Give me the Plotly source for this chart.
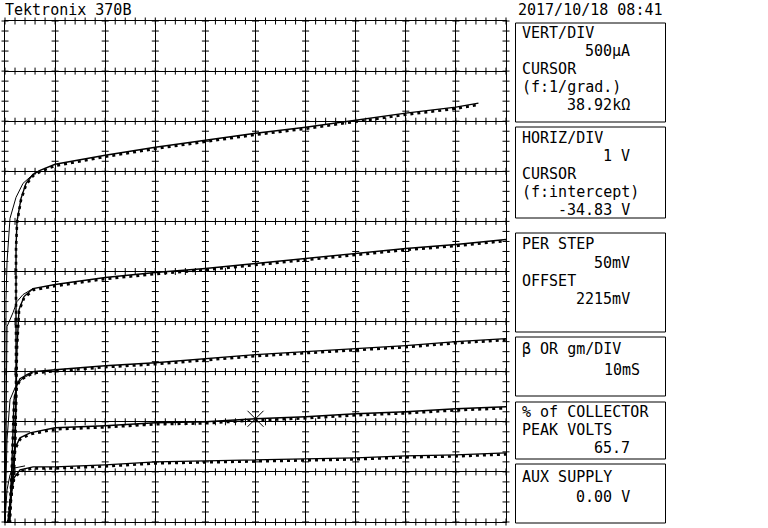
import numpy as np
import plotly.graph_objects as go

# ---------------- data (V in volts, I in mA) ----------------
# step 0 (lowest curve)
s0_v = [0.06, 0.12, 0.18, 0.30, 0.56, 1, 2, 3, 4, 5, 6, 7, 8, 9, 10]
s0_i = [0.00, 0.27, 0.44, 0.52, 0.55, 0.55, 0.57, 0.60, 0.61, 0.62, 0.63, 0.64, 0.66, 0.67, 0.69]
s0r_v = [0.00, 0.04, 0.10, 0.20, 0.40]
s0r_i = [0.00, 0.32, 0.47, 0.54, 0.56]
# step 1
s1_v = [0.08, 0.14, 0.20, 0.30, 0.50, 1, 2, 3, 4, 5, 6, 7, 8, 9, 10]
s1_i = [0.00, 0.52, 0.74, 0.84, 0.89, 0.94, 0.96, 0.99, 1.00, 1.03, 1.05, 1.08, 1.10, 1.13, 1.15]
s1r_v = [0.00, 0.00, 0.02, 0.50]
s1r_i = [0.00, 0.42, 0.90, 0.90]
# step 2
s2_v = [0.10, 0.16, 0.18, 0.24, 0.30, 0.44, 0.56, 1, 2, 3, 4, 5, 6, 7, 8, 9, 10]
s2_i = [0.00, 0.82, 1.22, 1.37, 1.43, 1.47, 1.50, 1.52, 1.56, 1.59, 1.63, 1.67, 1.70, 1.73, 1.76, 1.80, 1.83]
s2r_v = [0.00, 0.04, 0.10, 0.20, 0.34, 0.56]
s2r_i = [0.00, 0.82, 1.22, 1.34, 1.43, 1.49]
# step 3
s3_v = [0.08, 0.20, 0.24, 0.28, 0.38, 0.56, 1, 2, 3, 4, 5, 6, 7, 8, 9, 10]
s3_i = [0.00, 0.72, 1.75, 2.12, 2.25, 2.33, 2.37, 2.44, 2.49, 2.53, 2.58, 2.63, 2.68, 2.73, 2.77, 2.82]
s3r_v = [0.00, 0.02, 0.04, 0.16, 0.24, 0.36, 0.56]
s3r_i = [0.00, 1.02, 1.95, 2.09, 2.20, 2.27, 2.33]
# step 4 (top curve)
s4_v = [0.06, 0.18, 0.22, 0.22, 0.22, 0.24, 0.32, 0.42, 0.56, 0.70, 1, 2, 3, 4, 5, 6, 7, 8, 9, 9.45]
s4_i = [0.00, 0.52, 1.22, 2.22, 2.74, 3.00, 3.23, 3.38, 3.47, 3.51, 3.57, 3.66, 3.74, 3.81, 3.88, 3.94, 4.01, 4.08, 4.14, 4.18]
s4r_v = [0.00, 0.02, 0.02, 0.04, 0.10, 0.22, 0.36, 0.54, 0.70]
s4r_i = [0.00, 1.02, 2.22, 2.59, 3.03, 3.24, 3.38, 3.46, 3.51]

cursor_v = [5.0]
cursor_i = [1.03]

header_left = "Tektronix 370B"
header_right = "2017/10/18 08:41"

# ---------------- figure ----------------
W, H = 768, 528
L, R, T, B = 5, 506, 21, 522          # plot area pixels
XMAX, YMAX = 10, 5.0                  # 10 div x 1 V, 10 div x 0.5 mA
FONT = "DejaVu Sans Mono"
FS = 15

fig = go.Figure()

# minor graticule ticks on every grid line (every 1/5 division)
minor_x = np.arange(0, XMAX + 1e-9, 0.2)
minor_y = np.arange(0, YMAX + 1e-9, 0.1)
major_x = np.arange(0, XMAX + 1e-9, 1)
major_y = np.arange(0, YMAX + 1e-9, 0.5)
hx, hy = np.meshgrid(minor_x, major_y)
vx, vy = np.meshgrid(major_x, minor_y)
fig.add_trace(go.Scatter(x=hx.ravel(), y=hy.ravel(), mode="markers",
                         marker=dict(symbol="line-ns", size=5, line=dict(width=1, color="black")),
                         hoverinfo="skip", showlegend=False, cliponaxis=False))
fig.add_trace(go.Scatter(x=vx.ravel(), y=vy.ravel(), mode="markers",
                         marker=dict(symbol="line-ew", size=5, line=dict(width=1, color="black")),
                         hoverinfo="skip", showlegend=False, cliponaxis=False))

steps = [(s0_v, s0_i, s0r_v, s0r_i), (s1_v, s1_i, s1r_v, s1r_i), (s2_v, s2_i, s2r_v, s2r_i),
         (s3_v, s3_i, s3r_v, s3r_i), (s4_v, s4_i, s4r_v, s4r_i)]
for v, i, rv, ri in steps:
    fig.add_trace(go.Scatter(x=rv, y=ri, mode="lines", line=dict(color="black", width=1),
                             showlegend=False, hoverinfo="skip"))
    fig.add_trace(go.Scatter(x=v, y=i, mode="lines", line=dict(color="black", width=1.4),
                             showlegend=False, hoverinfo="skip"))
    # sampled-point trace, drawn slightly below the swept line
    fig.add_trace(go.Scatter(x=v, y=i, mode="lines", yaxis="y2",
                             line=dict(color="black", width=2.6, dash="3px,4px"),
                             showlegend=False, hoverinfo="skip"))

fig.add_trace(go.Scatter(x=cursor_v, y=cursor_i, mode="markers",
                         marker=dict(symbol="x-thin", size=16, line=dict(width=1, color="black")),
                         showlegend=False, hoverinfo="skip"))

pw, ph = R - L, B - T
def px(x):
    return (x - L) / pw
def py(y):
    return (B - y) / ph

def text(x, y, s, anchor="left"):
    fig.add_annotation(x=px(x), y=py(y), xref="paper", yref="paper", text=s, showarrow=False,
                       xanchor=anchor, yanchor="middle", borderpad=0,
                       font=dict(family=FONT, size=FS, color="black"))

# header
text(4, 10, header_left)
text(664, 10, header_right, "right")

# right-hand readout boxes
boxes = [(23, 122), (127, 218), (233, 332), (337, 396), (402, 459), (464, 523)]
for y0, y1 in boxes:
    fig.add_shape(type="rect", xref="paper", yref="paper", x0=px(515.5), x1=px(665.5),
                  y0=py(y1), y1=py(y0), line=dict(color="black", width=1))

TX, VX = 521, 631
text(TX, 33, "VERT/DIV"); text(VX, 51, "500µA", "right")
text(TX, 69, "CURSOR"); text(TX, 87, "(f:1/grad.)"); text(VX, 105, "38.92kΩ", "right")
text(TX, 138, "HORIZ/DIV"); text(VX, 156, "1 V", "right")
text(TX, 174, "CURSOR"); text(TX, 192, "(f:intercept)"); text(VX, 210, "-34.83 V", "right")
text(TX, 244, "PER STEP"); text(VX, 263, "50mV", "right")
text(TX, 281, "OFFSET"); text(VX, 299, "2215mV", "right")
text(TX, 349, "β OR gm/DIV"); text(641, 370, "10mS", "right")
text(TX, 412, "% of COLLECTOR"); text(TX, 430, "PEAK VOLTS"); text(VX, 448, "65.7", "right")
text(TX, 477, "AUX SUPPLY"); text(VX, 497, "0.00 V", "right")

d = 1.5 * YMAX / ph
axis_common = dict(showticklabels=False, ticks="", zeroline=False, showgrid=True,
                   gridcolor="black", gridwidth=1, showline=True, mirror=True,
                   linecolor="black", linewidth=1)
fig.update_layout(
    width=W, height=H, margin=dict(l=L, r=W - R, t=T, b=H - B, pad=0),
    paper_bgcolor="white", plot_bgcolor="white", showlegend=False,
    xaxis=dict(range=[0, XMAX], dtick=1, **axis_common),
    yaxis=dict(range=[0, YMAX], dtick=0.5, **axis_common),
    yaxis2=dict(range=[d, YMAX + d], overlaying="y", visible=False),
)

fig.write_html("out.html")
